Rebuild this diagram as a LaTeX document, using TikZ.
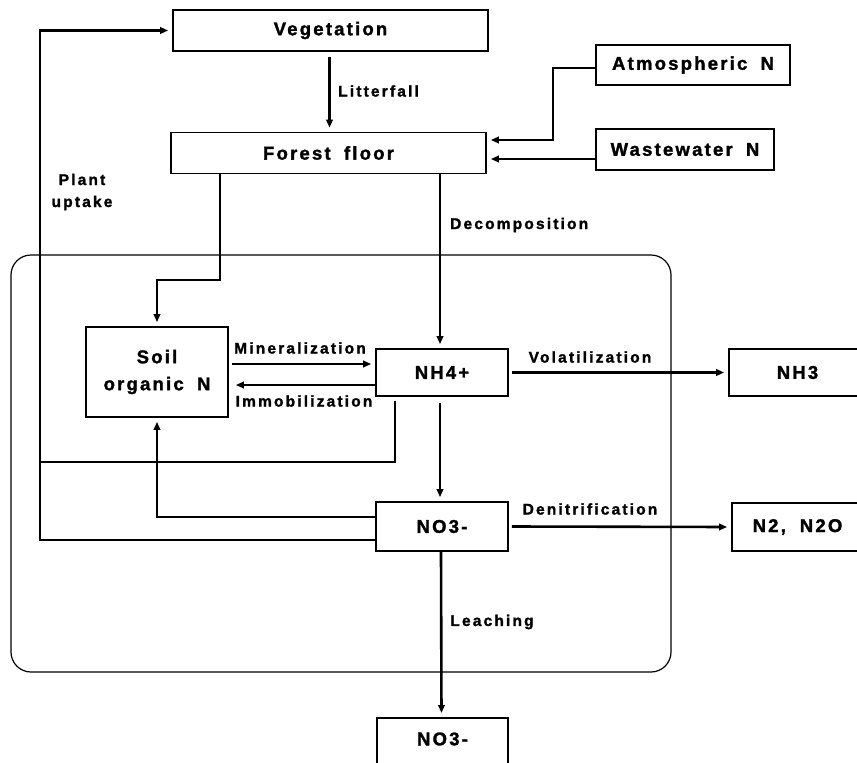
\documentclass[tikz,border=0pt]{standalone}
\usepackage{fontspec}
\setmainfont{Liberation Sans}
\newfontfamily\boxfont{Liberation Sans Bold}[LetterSpace=12,FakeBold=1.5,WordSpace=1.8]
\newfontfamily\labfont{Liberation Sans Bold}[LetterSpace=14,FakeBold=1.5]
\usetikzlibrary{arrows.meta}
\begin{document}
\begin{tikzpicture}[x=1pt,y=-1pt,
  box/.style={draw, line width=1.7pt, rectangle, inner sep=0pt,
    font=\boxfont\fontsize{18.5}{27}\selectfont},
  boxtext/.style={inner sep=0pt, font=\boxfont\fontsize{18.5}{27}\selectfont},
  lab/.style={inner sep=0pt, font=\labfont\fontsize{15.5}{22}\selectfont},
  flow/.style={line width=2.6pt, -{Triangle[length=8pt,width=6.5pt]}, shorten >=4pt},
  plain/.style={line width=2.6pt}]
\useasboundingbox (0,0) rectangle (857,763);
\fill[white] (0,0) rectangle (857,763);

% boxes
\node[box, minimum width=315pt, minimum height=41pt] (veg) at (330.5,30.5) {Vegetation};
\node[box, minimum width=315pt, minimum height=41pt] (ff) at (328.5,153) {Forest floor};
\node[box, minimum width=194pt, minimum height=40pt] (atm) at (693,65) {Atmospheric N};
\node[box, minimum width=178pt, minimum height=41pt] (ww) at (685,149.5) {Wastewater N};
\node[box, minimum width=142pt, minimum height=90pt, align=center] (soil) at (157,372) {Soil\\organic N};
\node[box, minimum width=132pt, minimum height=47pt] (nh4) at (442,372.5) {NH4+};
\node[box, minimum width=132pt, minimum height=49pt] (no3) at (442,526.5) {NO3-};
\node[box, minimum width=137pt, minimum height=47pt] (nh3) at (797.5,372.5) {NH3};
\node[box, minimum width=131pt, minimum height=48pt] (n2) at (797.5,527) {N2,\hspace{14pt}N2O};
\node[box, minimum width=131pt, minimum height=60pt, anchor=north] (no3b) at (442.5,717) {};
\node[boxtext] (no3bt) at (442.5,739) {NO3-};

% soil compartment frame
\draw[line width=1.2pt, rounded corners=20pt] (11,255) rectangle (671,672);

% connectors
\coordinate (pu) at (40,540);
\coordinate (c1) at (157,280);
\coordinate (dtop) at ([xshift=-2pt]nh4.north);
\draw[flow] ([yshift=-13.5pt]no3.west) -- (pu) |- (veg.west);
\draw[plain] ([xshift=-47pt,yshift=-4pt]nh4.south) |- (pu |- 0,462);
\draw[flow] ([yshift=9.5pt]no3.west) -| (soil.south);
\draw[flow] ([xshift=-108.5pt]ff.south) |- (c1) -- (soil.north);
\draw[flow] ([xshift=-1pt,yshift=-5pt]veg.south) -- ([xshift=1pt]ff.north);
\draw[flow] (ff.south -| dtop) -- (dtop);
\draw[flow] ([xshift=-2pt,yshift=-6pt]nh4.south) -- ([xshift=-2pt]no3.north);
\draw[flow] ([xshift=-1pt]no3.south) -- ([xshift=-1pt]no3b.north);
\draw[flow] ([yshift=8pt,xshift=3pt]soil.east) -- ([yshift=8.5pt]nh4.west);
\draw[flow] ([yshift=-12.5pt]nh4.west) -- ([yshift=-13pt,xshift=3pt]soil.east);
\draw[flow] ([xshift=3pt]nh4.east) -- (nh3.west);
\draw[flow] ([xshift=3pt]no3.east) -- (n2.west);
\draw[flow] ([yshift=-3pt]atm.west) -- ++(-42pt,0) |- ([yshift=13pt]ff.east);
\draw[flow] ([yshift=-9.5pt]ww.west) -- ([yshift=-6pt]ff.east);

% labels
\node[lab, anchor=west] (llit) at (338,91) {Litterfall};
\node[lab, align=center] (lpu) at (82,192) {Plant\\uptake};
\node[lab, anchor=west] (ldec) at (450,225) {Decomposition};
\node[lab] (lmin) at (300,348) {Mineralization};
\node[lab] (limm) at (304,401) {Immobilization};
\node[lab] (lvol) at (590,357) {Volatilization};
\node[lab] (lden) at (590,509) {Denitrification};
\node[lab] (llea) at (492,622) {Leaching};
\end{tikzpicture}
\end{document}
